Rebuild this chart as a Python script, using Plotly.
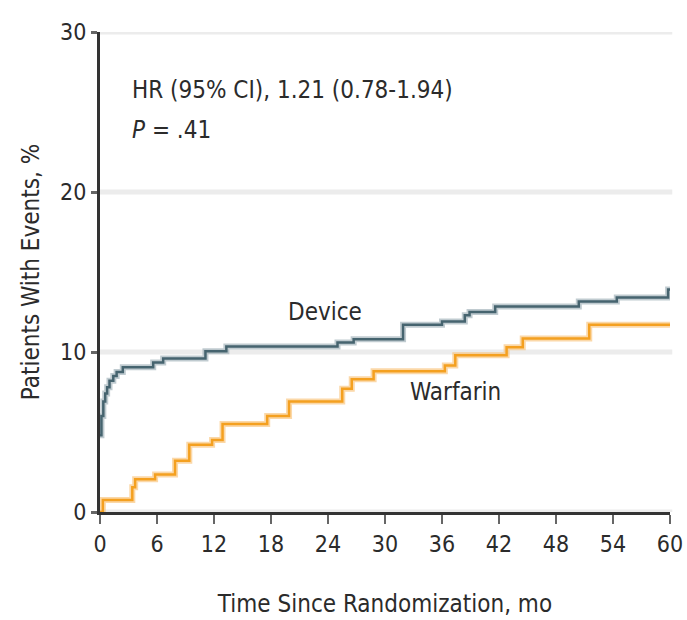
import plotly.graph_objects as go

# Device (t in months, cumulative % with events)
device_t = [0, 0.15, 0.35, 0.55, 0.75, 1.0, 1.4, 1.75, 2.4, 5.6, 6.65, 11.1, 13.3, 25.0, 26.7, 31.9, 36.0, 38.4, 38.9, 41.6, 50.4, 54.4, 59.8, 60]
device_v = [4.8, 6.0, 6.9, 7.4, 7.8, 8.2, 8.5, 8.75, 9.05, 9.35, 9.6, 10.05, 10.35, 10.6, 10.8, 11.7, 11.9, 12.3, 12.5, 12.85, 13.15, 13.4, 13.9, 13.9]

# Warfarin
warf_t = [0, 0.3, 3.4, 3.7, 5.8, 7.9, 9.4, 11.8, 12.9, 17.6, 19.9, 25.5, 26.5, 28.8, 36.3, 37.4, 42.8, 44.5, 51.5, 60]
warf_v = [0, 0.75, 1.55, 2.05, 2.35, 3.2, 4.2, 4.5, 5.5, 6.0, 6.9, 7.7, 8.3, 8.8, 9.15, 9.8, 10.3, 10.85, 11.7, 11.7]

x_ticks = [0, 6, 12, 18, 24, 30, 36, 42, 48, 54, 60]
y_ticks = [0, 10, 20, 30]

FONT = "DejaVu Sans Condensed, sans-serif"
TXT = "#2b2b2b"

fig = go.Figure()
# soft halo lines to mimic the reference rendering
fig.add_trace(go.Scatter(x=device_t, y=device_v, mode="lines", line_shape="hv",
                         line=dict(color="rgba(140,160,170,0.55)", width=6), hoverinfo="skip", showlegend=False))
fig.add_trace(go.Scatter(x=device_t, y=device_v, mode="lines", line_shape="hv",
                         line=dict(color="#46646f", width=2.5), name="Device", showlegend=False))
fig.add_trace(go.Scatter(x=warf_t, y=warf_v, mode="lines", line_shape="hv",
                         line=dict(color="rgba(248,190,110,0.6)", width=6), hoverinfo="skip", showlegend=False))
fig.add_trace(go.Scatter(x=warf_t, y=warf_v, mode="lines", line_shape="hv",
                         line=dict(color="#f4a020", width=2.5), name="Warfarin", showlegend=False))

shapes = [dict(type="line", xref="paper", yref="y", x0=0, x1=1.004, y0=v, y1=v,
               line=dict(color="#ececec", width=5), layer="below") for v in y_ticks]

fig.update_layout(
    width=687, height=620,
    margin=dict(l=100, r=17, t=32, b=108),
    paper_bgcolor="white", plot_bgcolor="white",
    font=dict(family=FONT, color=TXT, size=24),
    shapes=shapes,
    xaxis=dict(range=[0, 60], tickvals=x_ticks, ticktext=[str(v) for v in x_ticks],
               showgrid=False, zeroline=False, showline=True, linecolor="#333333", linewidth=3,
               ticks="outside", ticklen=9, tickwidth=2, tickcolor="#666666", automargin=False,
               tickfont=dict(size=23, family=FONT, color=TXT),
               title=dict(text="Time Since Randomization, mo", font=dict(size=24, family=FONT, color=TXT), standoff=40)),
    yaxis=dict(range=[0, 30], tickvals=y_ticks, ticktext=[str(v) for v in y_ticks],
               showgrid=False, zeroline=False, automargin=False,
               showline=True, linecolor="#333333", linewidth=3,
               ticks="outside", ticklen=6, tickwidth=3, tickcolor="#666666",
               tickfont=dict(size=23, family=FONT, color=TXT),
               title=dict(text="Patients With Events, %", font=dict(size=24, family=FONT, color=TXT), standoff=14)),
    annotations=[
        dict(x=3.2, y=26.4, xref="x", yref="y", text="HR (95% CI), 1.21 (0.78-1.94)", showarrow=False,
             xanchor="left", yanchor="middle", font=dict(size=24, family=FONT, color=TXT)),
        dict(x=3.2, y=23.9, xref="x", yref="y", text="<i>P</i> = .41", showarrow=False,
             xanchor="left", yanchor="middle", font=dict(size=24, family=FONT, color=TXT)),
        dict(x=23.7, y=12.5, xref="x", yref="y", text="Device", showarrow=False,
             xanchor="center", yanchor="middle", font=dict(size=24, family=FONT, color=TXT)),
        dict(x=37.4, y=7.5, xref="x", yref="y", text="Warfarin", showarrow=False,
             xanchor="center", yanchor="middle", font=dict(size=24, family=FONT, color=TXT)),
    ],
)
fig.write_html("out.html")
